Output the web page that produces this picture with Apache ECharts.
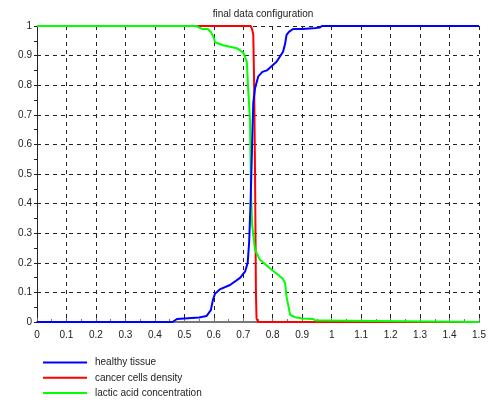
<!DOCTYPE html>
<html><head><meta charset="utf-8">
<script src="https://cdn.jsdelivr.net/npm/echarts@6/dist/echarts.min.js"></script>
<style>html,body{margin:0;padding:0;background:#fff}#c{width:491px;height:403px}</style>
</head><body><div id="c"></div>
<script>
const titleText = 'final data configuration';
const seriesNames = ['healthy tissue', 'cancer cells density', 'lactic acid concentration'];

const healthyX = [0, 0.46, 0.475, 0.5, 0.55, 0.575, 0.59, 0.597, 0.604, 0.62, 0.655, 0.689, 0.706, 0.715, 0.72, 0.725, 0.73, 0.734, 0.74, 0.751, 0.765, 0.78, 0.813, 0.835, 0.842, 0.847, 0.855, 0.869, 0.9, 0.937, 0.96, 0.967, 1.5];
const healthyY = [0, 0, 0.01, 0.012, 0.015, 0.02, 0.04, 0.075, 0.095, 0.11, 0.125, 0.149, 0.17, 0.2, 0.27, 0.41, 0.6, 0.74, 0.79, 0.83, 0.845, 0.85, 0.879, 0.913, 0.94, 0.97, 0.98, 0.99, 0.99, 0.992, 0.995, 1, 1];

const cancerX = [0, 0.725, 0.73, 0.734, 0.737, 0.74, 0.743, 0.745, 0.75, 1.5];
const cancerY = [1, 1, 0.99, 0.97, 0.8, 0.5, 0.1, 0.013, 0, 0];

const lacticX = [0, 0.54, 0.56, 0.58, 0.59, 0.6, 0.604, 0.631, 0.678, 0.7, 0.712, 0.717, 0.723, 0.726, 0.73, 0.74, 0.757, 0.791, 0.819, 0.835, 0.842, 0.847, 0.859, 0.876, 0.9, 0.937, 0.945, 0.965, 0.971, 1.5];
const lacticY = [1, 1, 0.99, 0.99, 0.98, 0.96, 0.945, 0.935, 0.925, 0.91, 0.88, 0.78, 0.68, 0.45, 0.33, 0.243, 0.21, 0.181, 0.159, 0.145, 0.131, 0.085, 0.024, 0.016, 0.012, 0.01, 0.005, 0.005, 0, 0];

const zip = (xs, ys) => xs.map((x, i) => [x, ys[i]]);
const font = 'Liberation Sans, Arial, sans-serif';
const chart = echarts.init(document.getElementById('c'), null, {renderer: 'canvas'});
chart.setOption({
  animation: false,
  title: {text: titleText, left: 258, textAlign: 'center', top: 4,
    textStyle: {fontFamily: font, fontSize: 10, fontWeight: 'normal', color: '#222'}},
  grid: {left: 37, right: 12, top: 26, bottom: 81, containLabel: false},
  legend: {orient: 'vertical', left: 43, top: 357.5, padding: 0, height: 60, itemWidth: 44, itemHeight: 2, itemGap: 5.3,
    icon: 'rect',
    data: seriesNames,
    textStyle: {fontFamily: font, fontSize: 10, color: '#222', padding: [0, 0, 0, 3]}},
  xAxis: {type: 'value', min: 0, max: 1.5, interval: 0.1,
    axisLine: {lineStyle: {color: '#777', width: 2}},
    axisTick: {inside: true, length: 4, lineStyle: {color: '#777'}},
    minorTick: {show: true, splitNumber: 2, length: 3, lineStyle: {color: '#777'}},
    axisLabel: {fontFamily: font, fontSize: 10, color: '#222', margin: 8,
      formatter: v => String(Math.round(v * 10) / 10)},
    splitLine: {show: true, lineStyle: {type: [4, 4], color: '#222'}}},
  yAxis: {type: 'value', min: 0, max: 1, interval: 0.1,
    axisLine: {show: true, lineStyle: {color: '#222', width: 1}},
    axisTick: {show: true, length: 3, lineStyle: {color: '#222'}},
    minorTick: {show: true, splitNumber: 2, length: 3, lineStyle: {color: '#222'}},
    axisLabel: {fontFamily: font, fontSize: 10, color: '#222', margin: 5,
      formatter: v => String(Math.round(v * 10) / 10)},
    splitLine: {show: true, lineStyle: {type: [4, 4], color: '#222'}}},
  series: [
    {name: seriesNames[1], type: 'line', data: zip(cancerX, cancerY), symbol: 'none',
      lineStyle: {color: '#ff0000', width: 2}, itemStyle: {color: '#ff0000'}, z: 2},
    {name: seriesNames[2], type: 'line', data: zip(lacticX, lacticY), symbol: 'none',
      lineStyle: {color: '#00ff00', width: 2}, itemStyle: {color: '#00ff00'}, z: 3},
    {name: seriesNames[0], type: 'line', data: zip(healthyX, healthyY), symbol: 'none',
      lineStyle: {color: '#0000ff', width: 2}, itemStyle: {color: '#0000ff'}, z: 4}
  ]
});
</script></body></html>
